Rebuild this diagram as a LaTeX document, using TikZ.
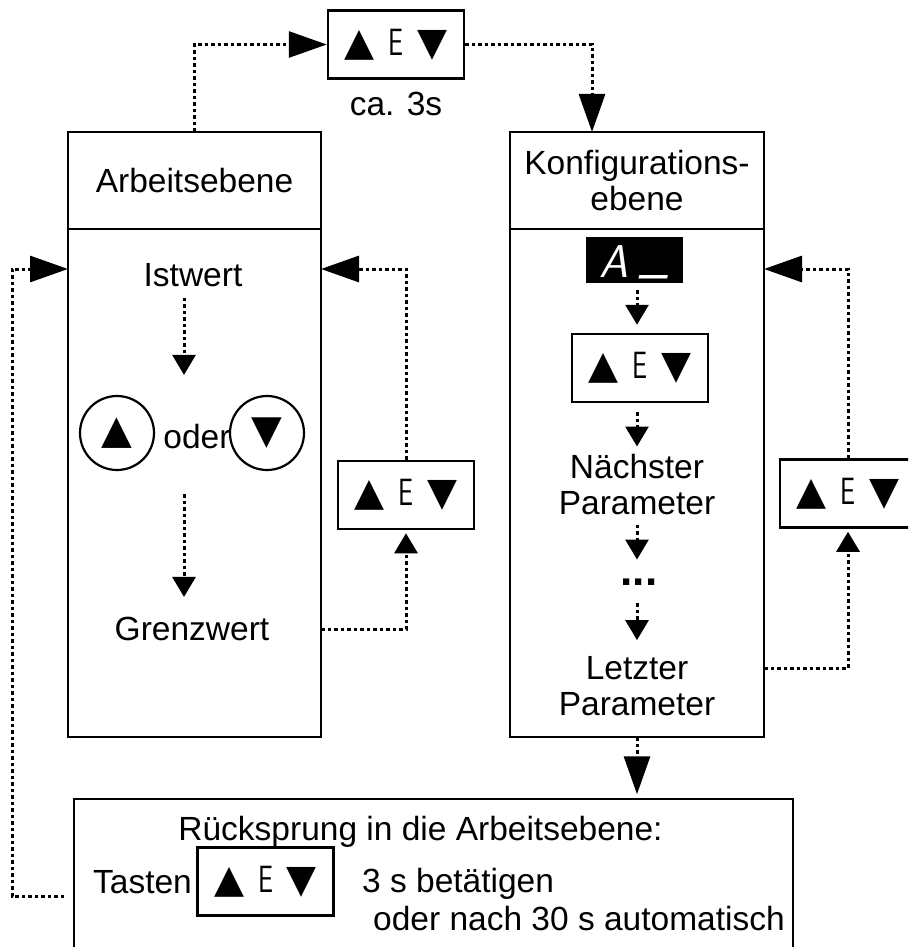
\documentclass[tikz,border=0pt]{standalone}
\usepackage{fontspec}
\setmainfont{Liberation Sans}
\newfontfamily\symfont{DejaVu Sans}
\usepackage{graphicx}
\usetikzlibrary{arrows.meta,positioning}

\newcommand\tastenreihe{{\fontsize{39}{39}\symfont ▲}\hspace{14pt}{\fontsize{38}{38}\sffamily\scalebox{0.7}[1]{E}}\hspace{14pt}{\fontsize{39}{39}\symfont ▼}}

\begin{document}
\begin{tikzpicture}[x=1pt, y=-1pt,
    every node/.style={inner sep=0pt, font=\fontsize{33.5}{36}\selectfont},
    ebene/.style={draw, line width=2.2pt, outer sep=0pt, minimum width=253pt},
    tasten/.style={draw, line width=2.5pt, minimum width=136pt, minimum height=68pt},
    knopf/.style={draw, circle, line width=2.2pt, minimum size=74pt},
    fluss/.style={line width=3pt, dash pattern=on 3.5pt off 3pt},
    gross/.style={-{Triangle[length=38pt,width=26pt]}},
    klein/.style={-{Triangle[length=20pt,width=23pt]}}]
    \useasboundingbox (0,0) rectangle (908,947);
    \clip (0,0) rectangle (908,947);

    % Arbeitsebene
    \node[ebene, minimum height=97pt] (arbKopf) at (194.5,180.5) {Arbeitsebene};
    \node[ebene, minimum height=508pt, below=0pt of arbKopf] (arbRumpf) {};
    \node (ist) at (193,275) {Istwert};
    \node[knopf] (auf) at (117,433) {{\fontsize{40}{40}\symfont ▲}};
    \node (oder) at (197,437) {oder};
    \node[knopf] (ab) at (267,433) {{\fontsize{40}{40}\symfont ▼}};
    \node (grenz) at (192,629) {Grenzwert};
    \coordinate (spalte) at (184,0);
    \draw[fluss, klein, shorten <=11pt, shorten >=20pt] (spalte |- ist.south) -- (spalte |- auf.north);
    \draw[fluss, klein, shorten <=23pt, shorten >=20pt] (spalte |- auf.south) -- (spalte |- grenz.north);

    % Konfigurationsebene
    \node[ebene, minimum width=254pt, minimum height=97pt, align=center] (konfKopf) at (637,180.5) {Konfigurations-\\ebene};
    \node[ebene, minimum width=254pt, minimum height=508pt, below=0pt of konfKopf] (konfRumpf) {};
    \node[fill=black, minimum width=97pt, minimum height=46pt, text height=34pt, text depth=0pt,
        font=\fontsize{46}{46}\sffamily\itshape, text=white] (anzeige) at (634.5,260) {A\hspace{12pt}\raisebox{6pt}{\_}};
    \node[tasten] (tastenR) at (640,368) {\tastenreihe};
    \node[align=center] (naechst) at (637,485) {Nächster\\Parameter};
    \node[font=\fontsize{44}{44}\bfseries] (punkte) at (639,582) {...};
    \node[align=center] (letzt) at (637,686) {Letzter\\Parameter};
    \coordinate (mitte) at (637,0);
    \draw[fluss, klein, shorten <=7pt, shorten >=8pt] (mitte |- anzeige.south) -- (mitte |- tastenR.north);
    \draw[fluss, klein, shorten <=9pt, shorten >=8pt] (mitte |- tastenR.south) -- (mitte |- naechst.north);
    \draw[fluss, klein, shorten <=9pt, shorten >=19pt] (mitte |- naechst.south) -- (mitte |- punkte.north);
    \draw[fluss, klein, shorten <=18pt, shorten >=16pt] (mitte |- punkte.south) -- (mitte |- letzt.north);

    % Umschalten oben
    \node[tasten] (tastenO) at (396,44.5) {\tastenreihe};
    \node[below=12pt of tastenO] (dauer) {ca. 3s};
    \draw[fluss, gross] (arbKopf.north) |- (tastenO.west);
    \draw[fluss, gross] (tastenO.east) -| ([xshift=-45pt]konfKopf.north);

    % Schleifen rechts
    \coordinate (einY) at (0,269);
    \coordinate (ausY) at (0,668);
    \node[tasten] (tastenL) at (406,495) {\tastenreihe};
    \draw[fluss, klein, shorten >=3pt] (arbRumpf.east |- grenz) -| (tastenL.south);
    \draw[fluss, gross] (tastenL.north) |- (arbRumpf.east |- einY);
    \node[tasten] (tastenK) at (848,493.5) {\tastenreihe};
    \draw[fluss, klein, shorten >=3pt] (konfRumpf.east |- ausY) -| (tastenK.south);
    \draw[fluss, gross] (tastenK.north) |- (konfRumpf.east |- einY);

    % Ruecksprung
    \node[draw, line width=1.5pt, minimum width=719pt, minimum height=201pt] (rueck) at (433.5,899.5) {};
    \node (rueckTitel) at (420.5,832) {Rücksprung in die Arbeitsebene:};
    \node (tastenWort) at (142.5,882) {Tasten};
    \node[tasten, line width=2.2pt] (tastenB) at (265.5,881.5) {\tastenreihe};
    \node[anchor=base west] (betaetigen) at (362,892) {3 s betätigen};
    \node[anchor=base west] (automatik) at (373,930) {oder nach 30 s automatisch};
    \draw[fluss, gross, shorten >=4pt] (konfRumpf.south) -- (konfRumpf.south |- rueck.north);
    \coordinate (rueckY) at (0,896);
    \coordinate (schleife) at (12,0);
    \draw[fluss, gross, shorten <=9pt] (rueck.west |- rueckY) -| (schleife |- einY) -- (arbRumpf.west |- einY);
\end{tikzpicture}
\end{document}
